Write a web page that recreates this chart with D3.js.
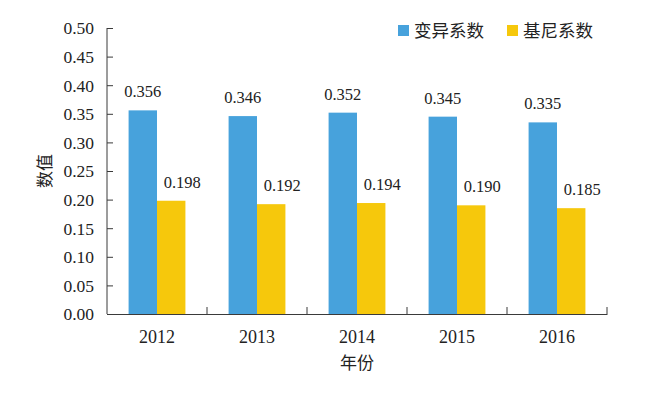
<!DOCTYPE html>
<html>
<head>
    <meta charset="utf-8">
    <style>
        html, body {
            margin: 0;
            padding: 0;
            background: #fff;
        }
        svg {
            display: block;
        }
    </style>
</head>
<body>
<div id="chart"></div>
<script src="https://cdn.jsdelivr.net/npm/d3@7"></script>
<script>
    "use strict";

    const years = ["2012", "2013", "2014", "2015", "2016"];
    const cvValues = [0.356, 0.346, 0.352, 0.345, 0.335];
    const giniValues = [0.198, 0.192, 0.194, 0.190, 0.185];
    const seriesNames = ["变异系数", "基尼系数"];
    const yTicks = [0, 0.05, 0.10, 0.15, 0.20, 0.25, 0.30, 0.35, 0.40, 0.45, 0.50];

    const WIDTH = 650;
    const HEIGHT = 395;
    const margin = {top: 28, right: 43, bottom: 81, left: 107};
    const innerW = WIDTH - margin.left - margin.right;
    const innerH = HEIGHT - margin.top - margin.bottom;
    const colors = ["#47a2dc", "#f6c80c"];
    const axisColor = "#3a3a3a";
    const SERIF = "'Liberation Serif', 'Times New Roman', Times, 'DejaVu Serif', serif";
    const CJK = "'Noto Sans CJK SC', sans-serif";

    const svg = d3.select("#chart").append("svg")
        .attr("width", WIDTH)
        .attr("height", HEIGHT);

    const g = svg.append("g")
        .attr("transform", "translate(" + margin.left + "," + margin.top + ")");

    const x = d3.scaleBand()
        .domain(years)
        .range([0, innerW]);

    const x1 = d3.scaleBand()
        .domain([0, 1])
        .range([0, x.bandwidth()])
        .paddingInner(0)
        .paddingOuter(0.76);

    const y = d3.scaleLinear()
        .domain([0, 0.5])
        .range([innerH, 0]);

    const rows = years.map(function (yr, i) {
        return {year: yr, values: [cvValues[i], giniValues[i]]};
    });

    // bars
    const groups = g.selectAll(".year")
        .data(rows)
        .enter()
        .append("g")
        .attr("transform", function (d) {
            return "translate(" + x(d.year) + ",0)";
        });

    groups.selectAll("rect")
        .data(function (d) {
            return d.values.map(function (v, k) { return {k: k, v: v}; });
        })
        .enter()
        .append("rect")
        .attr("x", function (d) { return x1(d.k); })
        .attr("y", function (d) { return y(d.v); })
        .attr("width", x1.bandwidth())
        .attr("height", function (d) { return innerH - y(d.v); })
        .attr("fill", function (d) { return colors[d.k]; });

    groups.selectAll("text")
        .data(function (d) {
            return d.values.map(function (v, k) { return {k: k, v: v}; });
        })
        .enter()
        .append("text")
        .attr("x", function (d) {
            return x1(d.k) + x1.bandwidth() / 2 + (d.k === 1 ? 11 : 0);
        })
        .attr("y", function (d) { return y(d.v) - 13; })
        .attr("text-anchor", "middle")
        .style("font-family", SERIF)
        .style("font-size", "16.5px")
        .style("fill", "#222")
        .text(function (d) { return d3.format(".3f")(d.v); });

    // y axis
    const yAxis = d3.axisRight(y)
        .tickValues(yTicks)
        .tickSize(6)
        .tickFormat(d3.format(".2f"));

    const yg = g.append("g").call(yAxis);
    yg.select(".domain").remove();
    yg.selectAll(".tick line").attr("stroke", axisColor);
    yg.selectAll(".tick text")
        .attr("x", -13)
        .attr("dy", "0.34em")
        .attr("text-anchor", "end")
        .style("font-family", SERIF)
        .style("font-size", "17.5px")
        .style("fill", "#222");
    g.append("line")
        .attr("x1", 0).attr("x2", 0)
        .attr("y1", 0).attr("y2", innerH)
        .attr("stroke", axisColor);

    // x axis
    const xAxis = d3.axisBottom(x).tickSize(0).tickPadding(0);
    const xg = g.append("g")
        .attr("transform", "translate(0," + innerH + ")")
        .call(xAxis);
    xg.select(".domain").attr("stroke", axisColor);
    xg.selectAll(".tick text")
        .attr("y", 29)
        .attr("dy", 0)
        .style("font-family", SERIF)
        .style("font-size", "18px")
        .style("fill", "#222");

    xg.selectAll(".sep")
        .data(years.slice(1).concat(["end"]))
        .enter()
        .append("line")
        .attr("x1", function (d, i) { return x.bandwidth() * (i + 1); })
        .attr("x2", function (d, i) { return x.bandwidth() * (i + 1); })
        .attr("y1", 0)
        .attr("y2", -7)
        .attr("stroke", axisColor);

    // axis titles
    svg.append("text")
        .attr("x", margin.left + innerW / 2)
        .attr("y", 369)
        .attr("text-anchor", "middle")
        .style("font-family", CJK)
        .style("font-size", "17px")
        .style("fill", "#222")
        .text("年份");

    svg.append("text")
        .attr("transform", "translate(51," + (margin.top + innerH / 2) + ") rotate(-90)")
        .attr("text-anchor", "middle")
        .style("font-family", CJK)
        .style("font-size", "17px")
        .style("fill", "#222")
        .text("数值");

    // legend
    const legendX = [398, 507];
    const legend = svg.selectAll(".legend")
        .data(seriesNames)
        .enter()
        .append("g")
        .attr("transform", function (d, i) {
            return "translate(" + legendX[i] + ",25)";
        });
    legend.append("rect")
        .attr("width", 11)
        .attr("height", 11)
        .attr("fill", function (d, i) { return colors[i]; });
    legend.append("text")
        .attr("x", 16)
        .attr("y", 12)
        .style("font-family", CJK)
        .style("font-size", "17.5px")
        .style("fill", "#222")
        .text(function (d) { return d; });
</script>
</body>
</html>
